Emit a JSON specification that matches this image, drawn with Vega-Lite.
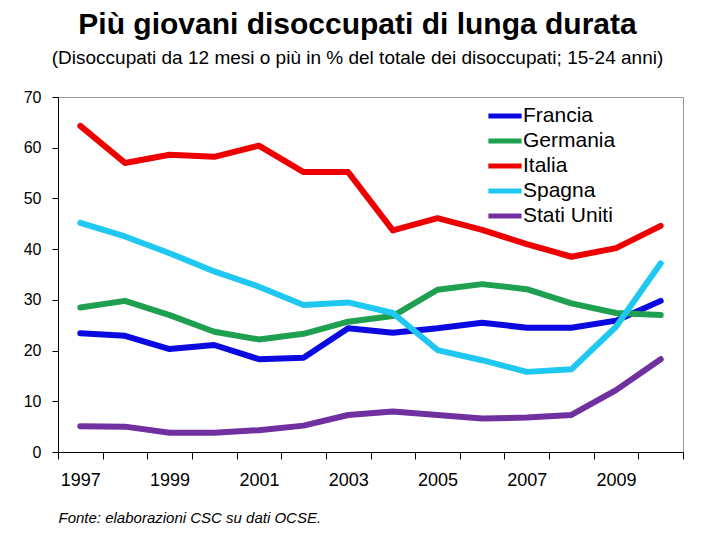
{
  "$schema": "https://vega.github.io/schema/vega-lite/v6.json",
  "width": 625,
  "height": 355,
  "autosize": {"type": "none"},
  "padding": {"left": 58, "top": 97, "right": 37, "bottom": 88},
  "background": "white",
  "title": {
    "text": "Più giovani disoccupati di lunga durata",
    "subtitle": "(Disoccupati da 12 mesi o più in % del totale dei disoccupati; 15-24 anni)",
    "anchor": "middle",
    "dx": -13,
    "offset": 21,
    "font": "Liberation Sans",
    "fontSize": 30,
    "fontWeight": "bold",
    "color": "#000000",
    "subtitleFont": "Liberation Sans",
    "subtitleFontSize": 19,
    "subtitleColor": "#000000",
    "subtitlePadding": 9
  },
  "data": {
    "values": [
      {"year": 1997, "paese": "Francia", "valore": 23.4},
      {"year": 1998, "paese": "Francia", "valore": 22.9},
      {"year": 1999, "paese": "Francia", "valore": 20.3},
      {"year": 2000, "paese": "Francia", "valore": 21.1},
      {"year": 2001, "paese": "Francia", "valore": 18.3},
      {"year": 2002, "paese": "Francia", "valore": 18.6},
      {"year": 2003, "paese": "Francia", "valore": 24.4},
      {"year": 2004, "paese": "Francia", "valore": 23.5},
      {"year": 2005, "paese": "Francia", "valore": 24.4},
      {"year": 2006, "paese": "Francia", "valore": 25.5},
      {"year": 2007, "paese": "Francia", "valore": 24.5},
      {"year": 2008, "paese": "Francia", "valore": 24.5},
      {"year": 2009, "paese": "Francia", "valore": 25.9},
      {"year": 2010, "paese": "Francia", "valore": 29.8},
      {"year": 1997, "paese": "Germania", "valore": 28.5},
      {"year": 1998, "paese": "Germania", "valore": 29.8},
      {"year": 1999, "paese": "Germania", "valore": 27.0},
      {"year": 2000, "paese": "Germania", "valore": 23.7},
      {"year": 2001, "paese": "Germania", "valore": 22.2},
      {"year": 2002, "paese": "Germania", "valore": 23.3},
      {"year": 2003, "paese": "Germania", "valore": 25.7},
      {"year": 2004, "paese": "Germania", "valore": 26.8},
      {"year": 2005, "paese": "Germania", "valore": 32.0},
      {"year": 2006, "paese": "Germania", "valore": 33.1},
      {"year": 2007, "paese": "Germania", "valore": 32.1},
      {"year": 2008, "paese": "Germania", "valore": 29.3},
      {"year": 2009, "paese": "Germania", "valore": 27.4},
      {"year": 2010, "paese": "Germania", "valore": 27.0},
      {"year": 1997, "paese": "Italia", "valore": 64.3},
      {"year": 1998, "paese": "Italia", "valore": 57.0},
      {"year": 1999, "paese": "Italia", "valore": 58.6},
      {"year": 2000, "paese": "Italia", "valore": 58.2},
      {"year": 2001, "paese": "Italia", "valore": 60.4},
      {"year": 2002, "paese": "Italia", "valore": 55.2},
      {"year": 2003, "paese": "Italia", "valore": 55.2},
      {"year": 2004, "paese": "Italia", "valore": 43.7},
      {"year": 2005, "paese": "Italia", "valore": 46.1},
      {"year": 2006, "paese": "Italia", "valore": 43.8},
      {"year": 2007, "paese": "Italia", "valore": 41.0},
      {"year": 2008, "paese": "Italia", "valore": 38.5},
      {"year": 2009, "paese": "Italia", "valore": 40.2},
      {"year": 2010, "paese": "Italia", "valore": 44.6},
      {"year": 1997, "paese": "Spagna", "valore": 45.2},
      {"year": 1998, "paese": "Spagna", "valore": 42.5},
      {"year": 1999, "paese": "Spagna", "valore": 39.2},
      {"year": 2000, "paese": "Spagna", "valore": 35.6},
      {"year": 2001, "paese": "Spagna", "valore": 32.6},
      {"year": 2002, "paese": "Spagna", "valore": 29.0},
      {"year": 2003, "paese": "Spagna", "valore": 29.5},
      {"year": 2004, "paese": "Spagna", "valore": 27.4},
      {"year": 2005, "paese": "Spagna", "valore": 20.1},
      {"year": 2006, "paese": "Spagna", "valore": 18.1},
      {"year": 2007, "paese": "Spagna", "valore": 15.8},
      {"year": 2008, "paese": "Spagna", "valore": 16.3},
      {"year": 2009, "paese": "Spagna", "valore": 24.7},
      {"year": 2010, "paese": "Spagna", "valore": 37.2},
      {"year": 1997, "paese": "Stati Uniti", "valore": 5.1},
      {"year": 1998, "paese": "Stati Uniti", "valore": 5.0},
      {"year": 1999, "paese": "Stati Uniti", "valore": 3.8},
      {"year": 2000, "paese": "Stati Uniti", "valore": 3.8},
      {"year": 2001, "paese": "Stati Uniti", "valore": 4.3},
      {"year": 2002, "paese": "Stati Uniti", "valore": 5.2},
      {"year": 2003, "paese": "Stati Uniti", "valore": 7.3},
      {"year": 2004, "paese": "Stati Uniti", "valore": 8.0},
      {"year": 2005, "paese": "Stati Uniti", "valore": 7.3},
      {"year": 2006, "paese": "Stati Uniti", "valore": 6.6},
      {"year": 2007, "paese": "Stati Uniti", "valore": 6.8},
      {"year": 2008, "paese": "Stati Uniti", "valore": 7.3},
      {"year": 2009, "paese": "Stati Uniti", "valore": 12.2},
      {"year": 2010, "paese": "Stati Uniti", "valore": 18.3}
    ]
  },
  "mark": {"type": "line", "strokeWidth": 6, "strokeCap": "round", "strokeJoin": "round"},
  "encoding": {
    "x": {
      "field": "year",
      "type": "ordinal",
      "bandPosition": 0.5,
      "scale": {"type": "band", "paddingInner": 0, "paddingOuter": 0},
      "axis": {
        "title": "Fonte: elaborazioni CSC su dati OCSE.",
        "titleAnchor": "start",
        "titleFont": "Liberation Sans",
        "titleFontStyle": "italic",
        "titleFontWeight": "normal",
        "titleFontSize": 15,
        "titleColor": "#000000",
        "titlePadding": 21,
        "labelAngle": 0,
        "labelExpr": "datum.value % 2 == 1 ? datum.label : ''",
        "labelFont": "Liberation Sans",
        "labelFontSize": 18,
        "labelColor": "#000000",
        "labelPadding": 12,
        "tickBand": "extent",
        "tickSize": 7,
        "tickColor": "#000000",
        "domainColor": "#000000",
        "grid": false
      }
    },
    "y": {
      "field": "valore",
      "type": "quantitative",
      "scale": {"domain": [0, 70], "nice": false},
      "axis": {
        "title": null,
        "values": [0, 10, 20, 30, 40, 50, 60, 70],
        "labelFont": "Liberation Sans",
        "labelFontSize": 16,
        "labelColor": "#000000",
        "labelPadding": 11,
        "tickSize": 6,
        "tickColor": "#000000",
        "domainColor": "#000000",
        "grid": false
      }
    },
    "color": {
      "field": "paese",
      "type": "nominal",
      "scale": {
        "domain": ["Francia", "Germania", "Italia", "Spagna", "Stati Uniti"],
        "range": ["#0a0ae0", "#1ea050", "#ee0000", "#1ec8f0", "#7030a0"]
      },
      "legend": {
        "title": null,
        "orient": "none",
        "legendX": 432,
        "legendY": 4,
        "symbolType": "M-1.33,0H1.33",
        "symbolStrokeWidth": 5,
        "symbolSize": 625,
        "labelFont": "Liberation Sans",
        "labelFontSize": 21,
        "labelColor": "#000000",
        "labelOffset": 3,
        "rowPadding": 0
      }
    }
  },
  "config": {
    "view": {"stroke": "#999999", "strokeWidth": 1}
  }
}
